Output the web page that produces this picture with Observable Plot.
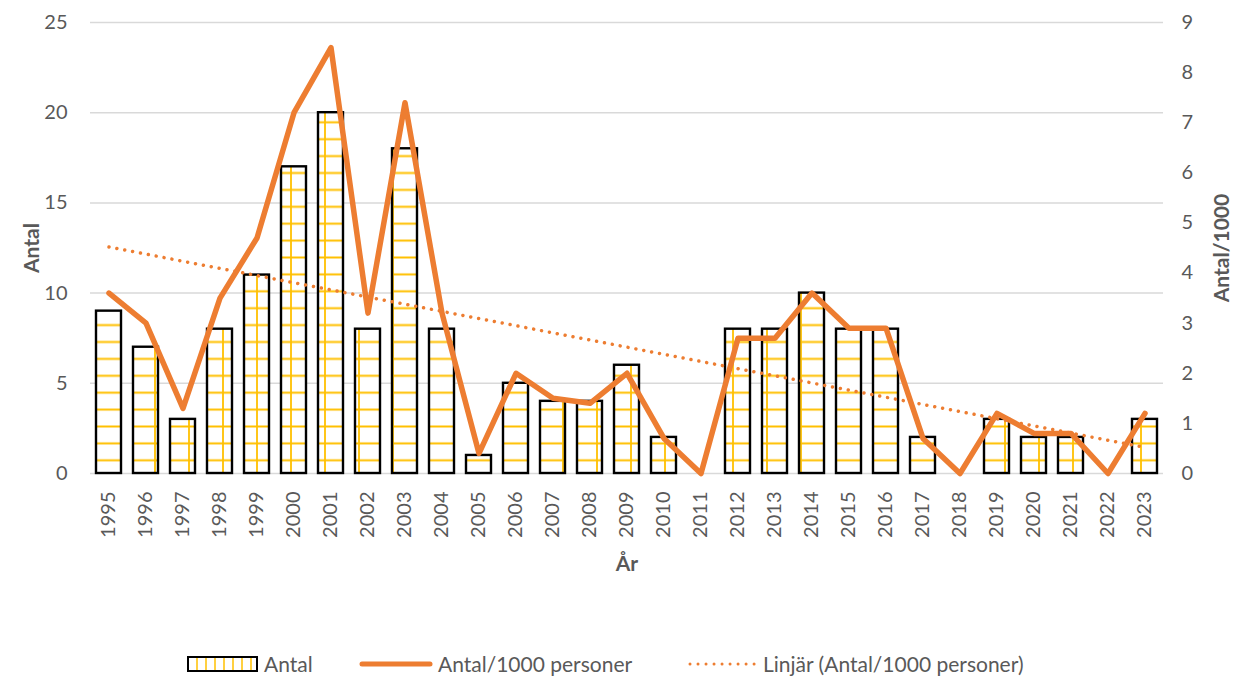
<!DOCTYPE html>
<html>
<head>
<meta charset="utf-8">
<script src="https://cdn.jsdelivr.net/npm/d3@7"></script>
<script src="https://cdn.jsdelivr.net/npm/@observablehq/plot@0.6"></script>
<style>
  body { margin: 0; background: #fff; font-family: Lato, "Open Sans", sans-serif; }
  #chart { position: relative; width: 1247px; }
  #legend { position: relative; width: 1247px; height: 37px; color: #595959; font-size: 21px; }
  .item { position: absolute; top: 0; height: 37px; display: flex; align-items: center; }
  .item svg { margin-right: 5px; }
</style>
</head>
<body>
<div id="chart"></div>
<div id="legend"></div>
<script>
const years = [1995,1996,1997,1998,1999,2000,2001,2002,2003,2004,2005,2006,2007,2008,2009,2010,2011,2012,2013,2014,2015,2016,2017,2018,2019,2020,2021,2022,2023];
const antal = [9,7,3,8,11,17,20,8,18,8,1,5,4,4,6,2,0,8,8,10,8,8,2,0,3,2,2,0,3];
const perTusen = [3.6,3.0,1.3,3.5,4.7,7.2,8.5,3.2,7.4,3.2,0.4,2.0,1.5,1.4,2.0,0.7,0,2.7,2.7,3.6,2.9,2.9,0.7,0,1.2,0.8,0.8,0,1.2];
const leftTicks = [0,5,10,15,20,25];
const rightTicks = [0,1,2,3,4,5,6,7,8,9];
const leftMax = 25, rightMax = 9;

const data = years.map((year, i) => ({year, antal: antal[i], per: perTusen[i]}));
const toLeft = v => v * leftMax / rightMax;

const orange = "#ED7D31";
const grey = "#595959";

const svg = Plot.plot({
  width: 1247,
  height: 645,
  marginLeft: 90,
  marginRight: 84,
  marginTop: 22,
  marginBottom: 172,
  style: {fontFamily: "Lato, 'Open Sans', sans-serif", fontSize: "20px", color: grey, background: "#fff"},
  x: {type: "linear", domain: [years[0] - 0.5, years[years.length - 1] + 0.5]},
  y: {domain: [0, leftMax]},
  marks: [
    Plot.gridY(leftTicks, {stroke: "#d9d9d9", strokeOpacity: 1, strokeWidth: 1.5}),
    Plot.axisY(leftTicks, {tickSize: 0, tickPadding: 23, label: null, fontSize: 20}),
    Plot.text(rightTicks, {y: d => toLeft(d), text: d => String(d), frameAnchor: "right", textAnchor: "start", dx: 18, fill: grey, fontSize: 20}),
    Plot.axisX(years, {tickSize: 0, tickPadding: 18, tickRotate: -90, tickFormat: d => String(d), label: null, fontSize: 20}),
    Plot.rectY(data, {x1: d => d.year - 0.5, x2: d => d.year + 0.5, y: "antal", insetLeft: 6, insetRight: 6, fill: "url(#gridPat)", stroke: "#000", strokeWidth: 2.4}),
    Plot.linearRegressionY(data, {x: "year", y: d => toLeft(d.per), stroke: orange, strokeWidth: 3.5, strokeDasharray: "0.01 8", strokeLinecap: "round", ci: 0}),
    Plot.lineY(data, {x: "year", y: d => toLeft(d.per), stroke: orange, strokeWidth: 5.5, strokeLinejoin: "round", strokeLinecap: "round"}),
    Plot.text(["Antal"], {frameAnchor: "left", dx: -58, rotate: -90, textAnchor: "middle", fontWeight: "bold", fontSize: 21, fill: grey}),
    Plot.text(["Antal/1000"], {frameAnchor: "right", dx: 59, dy: 0, rotate: -90, textAnchor: "middle", fontWeight: "bold", fontSize: 21, fill: grey}),
    Plot.text(["År"], {frameAnchor: "bottom", dy: 97, fontWeight: "bold", fontSize: 21, fill: grey})
  ]
});

const defs = d3.select(svg).insert("defs", ":first-child");
const pw = 34, ph = 16.9;
const pat = defs.append("pattern")
  .attr("id", "gridPat")
  .attr("patternUnits", "userSpaceOnUse")
  .attr("x", 19 - pw / 2).attr("y", 4 - ph / 2)
  .attr("width", pw).attr("height", ph);
pat.append("rect").attr("width", pw).attr("height", ph).attr("fill", "#fff");
pat.append("line").attr("x1", 0).attr("x2", pw).attr("y1", ph / 2).attr("y2", ph / 2).attr("stroke", "#FFC000").attr("stroke-width", 1.8);
pat.append("line").attr("x1", pw / 2).attr("x2", pw / 2).attr("y1", 0).attr("y2", ph).attr("stroke", "#FFC000").attr("stroke-width", 1.8);

document.getElementById("chart").appendChild(svg);

// Legend
const legend = d3.select("#legend");
const it1 = legend.append("div").attr("class", "item").style("left", "187px");
const s1 = it1.append("svg").attr("width", 72).attr("height", 16);
[10, 19, 28, 37, 46, 55, 64].forEach(x => s1.append("line").attr("x1", x).attr("x2", x).attr("y1", 1).attr("y2", 15).attr("stroke", "#FFC000").attr("stroke-width", 1.5));
s1.append("rect").attr("x", 1).attr("y", 1).attr("width", 69).attr("height", 14).attr("fill", "none").attr("stroke", "#000").attr("stroke-width", 2);
it1.append("span").text("Antal");

const it2 = legend.append("div").attr("class", "item").style("left", "359px");
const s2 = it2.append("svg").attr("width", 74).attr("height", 16);
s2.append("line").attr("x1", 3).attr("x2", 71).attr("y1", 8).attr("y2", 8).attr("stroke", orange).attr("stroke-width", 5).attr("stroke-linecap", "round");
it2.append("span").text("Antal/1000 personer");

const it3 = legend.append("div").attr("class", "item").style("left", "688px");
const s3 = it3.append("svg").attr("width", 70).attr("height", 16);
s3.append("line").attr("x1", 2).attr("x2", 68).attr("y1", 8).attr("y2", 8).attr("stroke", orange).attr("stroke-width", 3).attr("stroke-dasharray", "0.01 8").attr("stroke-linecap", "round");
it3.append("span").text("Linjär (Antal/1000 personer)");
</script>
</body>
</html>
